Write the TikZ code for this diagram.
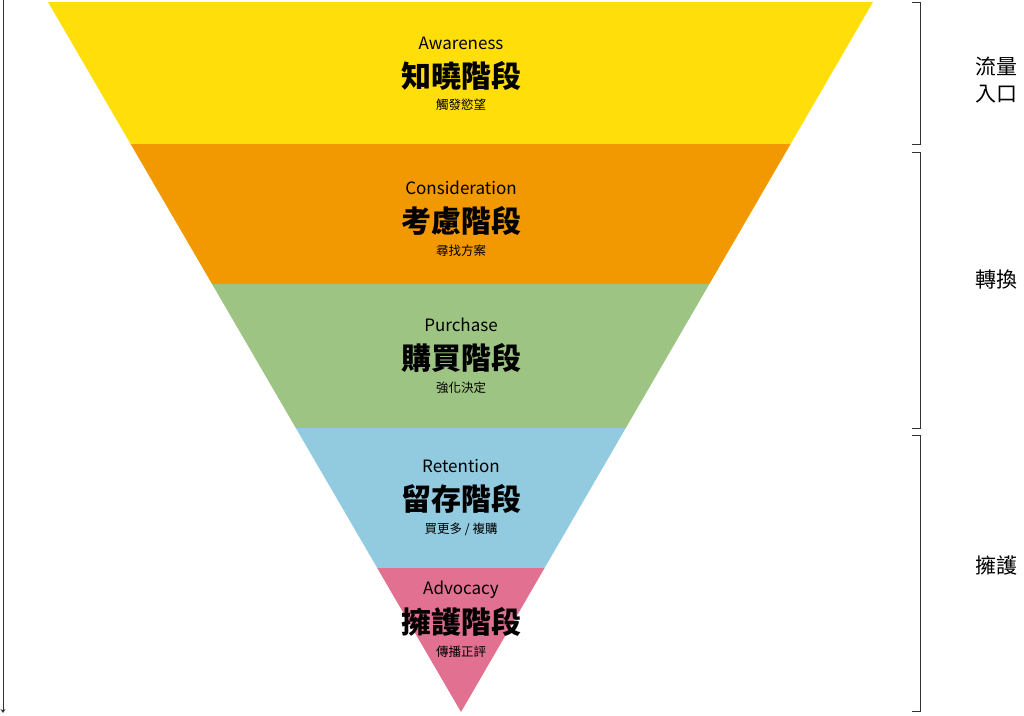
\documentclass[tikz,border=0pt]{standalone}
\usepackage{fontspec}
\usetikzlibrary{arrows.meta}
\setmainfont{Noto Sans CJK TC}
\definecolor{c1}{RGB}{255,222,10}
\definecolor{c2}{RGB}{242,152,0}
\definecolor{c3}{RGB}{158,196,132}
\definecolor{c4}{RGB}{146,203,223}
\definecolor{c5}{RGB}{226,112,145}
\begin{document}
\begin{tikzpicture}[x=1pt,y=-1pt,
  en/.style={font=\fontsize{17}{20}\selectfont},
  zh/.style={font=\fontsize{30}{34}\selectfont\bfseries},
  sub/.style={font=\fontsize{12.5}{15}\selectfont},
  side/.style={font=\fontsize{21}{27}\selectfont, align=left},
  br/.style={draw=black!80, line width=0.9pt}]
\useasboundingbox (0,0) rectangle (1024,715);
\def\L#1{48+0.58169*(#1-2)}
\def\R#1{873-0.58028*(#1-2)}
\fill[c1] (48,2) -- (873,2) -- ({\R{144}},144) -- ({\L{144}},144) -- cycle;
\fill[c2] ({\L{144}},144) -- ({\R{144}},144) -- ({\R{284}},284) -- ({\L{284}},284) -- cycle;
\fill[c3] ({\L{284}},284) -- ({\R{284}},284) -- ({\R{428}},428) -- ({\L{428}},428) -- cycle;
\fill[c4] ({\L{428}},428) -- ({\R{428}},428) -- ({\R{568}},568) -- ({\L{568}},568) -- cycle;
\fill[c5] ({\L{568}},568) -- ({\R{568}},568) -- (461,712) -- cycle;
\node[en] (e1) at (461,43) {Awareness};
\node[zh] (z1) at (461,76) {知曉階段};
\node[sub] (s1) at (461,105) {觸發慾望};
\node[en] (e2) at (461,188) {Consideration};
\node[zh] (z2) at (461,221) {考慮階段};
\node[sub] (s2) at (461,251) {尋找方案};
\node[en] (e3) at (461,325) {Purchase};
\node[zh] (z3) at (461,358) {購買階段};
\node[sub] (s3) at (461,388) {強化決定};
\node[en] (e4) at (461,466) {Retention};
\node[zh] (z4) at (461,499) {留存階段};
\node[sub] (s4) at (461,529) {買更多 / 複購};
\node[en] (e5) at (461,590) {Advocacy};
\node[zh] (z5) at (461,622) {擁護階段};
\node[sub] (s5) at (461,652) {傳播正評};
\coordinate (a0) at (3,0);
\coordinate (a1) at (3,713);
\draw[black!80, line width=0.9pt, -{Stealth[length=4pt,width=5pt]}] (a0) -- (a1);
\draw[br] (912,2) -- (920,2) -- (920,144) -- (912,144);
\draw[br] (912,152) -- (920,152) -- (920,428) -- (912,428);
\draw[br] (912,435) -- (920,435) -- (920,711) -- (912,711);
\node[side] (t1) at (996,80) {流量\\入口};
\node[side] (t2) at (996,280) {轉換};
\node[side] (t3) at (996,565) {擁護};
\end{tikzpicture}
\end{document}
